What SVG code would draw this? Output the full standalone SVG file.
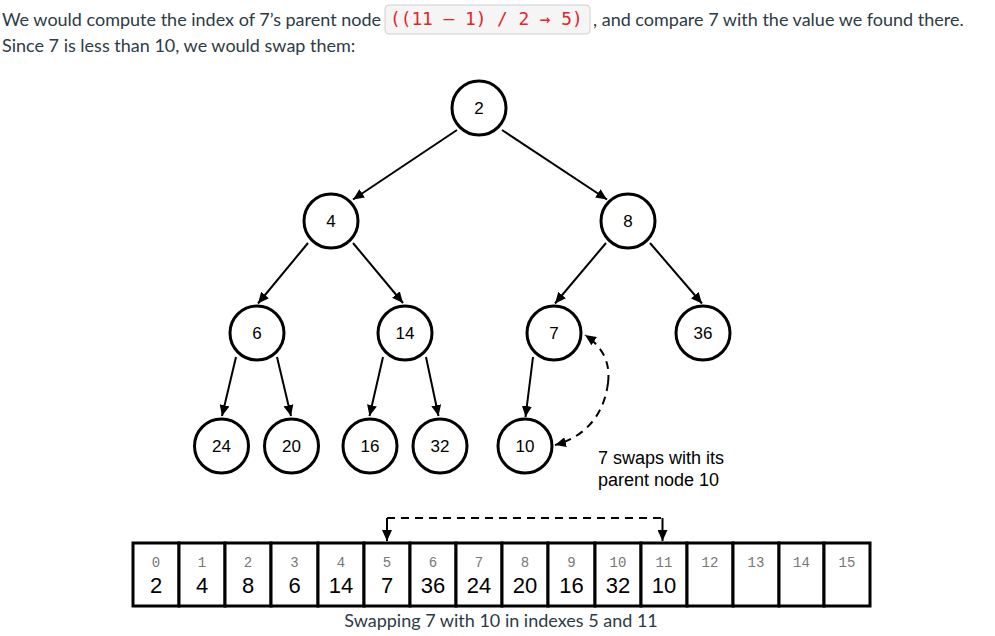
<svg xmlns="http://www.w3.org/2000/svg" width="995" height="636" viewBox="0 0 995 636">
<style>
.body{font-family:Lato,"Liberation Sans",sans-serif;font-size:18px;fill:#2d3b45}
.code{font-family:"DejaVu Sans Mono","Liberation Mono",monospace;font-size:17.8px;fill:#e3242b}
.node circle{fill:#fff;stroke:#000;stroke-width:3}
.node text{font-family:"Liberation Sans",Arial,sans-serif;font-size:17px;fill:#000;text-anchor:middle}
.edge{stroke:#000;stroke-width:2;fill:none}
.dash{stroke:#000;stroke-width:2;fill:none;stroke-dasharray:8,6}
.cell rect{fill:#fff;stroke:#000;stroke-width:3}
.idx{font-family:"Liberation Mono","Courier New",monospace;font-size:14px;fill:#777;text-anchor:middle}
.val{font-family:"Liberation Sans",Arial,sans-serif;font-size:22px;fill:#000;text-anchor:middle}
.note{font-family:"Liberation Sans",Arial,sans-serif;font-size:18px;fill:#000}
</style>
<defs>
<marker id="arr" markerUnits="userSpaceOnUse" markerWidth="12" markerHeight="10" refX="11" refY="5" orient="auto">
<path d="M0,0 L11,5 L0,10 z" fill="#000"/>
</marker>
</defs>
<rect width="995" height="636" fill="#fff"/>

<g id="intro">
<text class="body" x="2" y="26">We would compute the index of 7’s parent node</text>
<rect x="385" y="5" width="205" height="29" rx="4" fill="#f5f5f5" stroke="#d0d0d0" stroke-width="1"/>
<text class="code" x="390" y="25">((11 – 1) / 2 → 5)</text>
<text class="body" x="593" y="26">, and compare 7 with the value we found there.</text>
<text class="body" x="2" y="52">Since 7 is less than 10, we would swap them:</text>
</g>

<g id="connectors">
<line class="edge" x1="457" y1="130" x2="353" y2="199.5" marker-end="url(#arr)"/>
<line class="edge" x1="502" y1="130" x2="607" y2="199.5" marker-end="url(#arr)"/>
<line class="edge" x1="308" y1="243" x2="258" y2="303.5" marker-end="url(#arr)"/>
<line class="edge" x1="353" y1="243" x2="403" y2="303" marker-end="url(#arr)"/>
<line class="edge" x1="606" y1="243" x2="555" y2="303.5" marker-end="url(#arr)"/>
<line class="edge" x1="650" y1="243" x2="702" y2="303.5" marker-end="url(#arr)"/>
<line class="edge" x1="236" y1="357" x2="222" y2="416" marker-end="url(#arr)"/>
<line class="edge" x1="277" y1="357" x2="291" y2="416" marker-end="url(#arr)"/>
<line class="edge" x1="383" y1="357" x2="369.5" y2="416" marker-end="url(#arr)"/>
<line class="edge" x1="426" y1="357" x2="438.5" y2="416" marker-end="url(#arr)"/>
<line class="edge" x1="533" y1="357" x2="525.5" y2="417" marker-end="url(#arr)"/>
<path class="dash" d="M 608,383 C 611,360 600,345 585,335" stroke-dasharray="6,5" marker-end="url(#arr)"/>
<path class="dash" d="M 608,383 C 604,415 585,437 555,445" stroke-dasharray="6,5" marker-end="url(#arr)"/>
<path class="dash" d="M 387,518 L 662,518"/>
<line class="edge" x1="387" y1="518" x2="387" y2="541" marker-end="url(#arr)"/>
<line class="edge" x1="662.5" y1="518" x2="662.5" y2="541" marker-end="url(#arr)"/>
</g>

<g id="n2" class="node"><circle cx="479" cy="108" r="27"/><text x="479" y="114">2</text></g>
<g id="n4" class="node"><circle cx="331" cy="221" r="27"/><text x="331" y="227">4</text></g>
<g id="n8" class="node"><circle cx="628" cy="221" r="27"/><text x="628" y="227">8</text></g>
<g id="n6" class="node"><circle cx="257" cy="333" r="27"/><text x="257" y="339">6</text></g>
<g id="n14" class="node"><circle cx="405" cy="333" r="27"/><text x="405" y="339">14</text></g>
<g id="n7" class="node"><circle cx="554" cy="333" r="27"/><text x="554" y="339">7</text></g>
<g id="n36" class="node"><circle cx="703" cy="333" r="27"/><text x="703" y="339">36</text></g>
<g id="n24" class="node"><circle cx="221.5" cy="446" r="27"/><text x="221.5" y="452">24</text></g>
<g id="n20" class="node"><circle cx="291.5" cy="446" r="27"/><text x="291.5" y="452">20</text></g>
<g id="n16" class="node"><circle cx="370" cy="446" r="27"/><text x="370" y="452">16</text></g>
<g id="n32" class="node"><circle cx="440" cy="446" r="27"/><text x="440" y="452">32</text></g>
<g id="n10" class="node"><circle cx="525" cy="446" r="27"/><text x="525" y="452">10</text></g>

<g id="swap-note">
<text class="note" x="598" y="464">7 swaps with its</text>
<text class="note" x="598" y="486">parent node 10</text>
</g>

<g id="array" class="cell">
<rect x="133" y="543" width="46" height="63"/>
<rect x="179" y="543" width="46" height="63"/>
<rect x="225" y="543" width="46" height="63"/>
<rect x="271" y="543" width="47" height="63"/>
<rect x="318" y="543" width="46" height="63"/>
<rect x="364" y="543" width="46" height="63"/>
<rect x="410" y="543" width="46" height="63"/>
<rect x="456" y="543" width="46" height="63"/>
<rect x="502" y="543" width="46" height="63"/>
<rect x="548" y="543" width="47" height="63"/>
<rect x="595" y="543" width="46" height="63"/>
<rect x="641" y="543" width="46" height="63"/>
<rect x="687" y="543" width="46" height="63"/>
<rect x="733" y="543" width="46" height="63"/>
<rect x="779" y="543" width="45" height="63"/>
<rect x="824" y="543" width="46" height="63"/>
<text class="idx" x="156" y="567">0</text>
<text class="idx" x="202" y="567">1</text>
<text class="idx" x="248" y="567">2</text>
<text class="idx" x="294.5" y="567">3</text>
<text class="idx" x="341" y="567">4</text>
<text class="idx" x="387" y="567">5</text>
<text class="idx" x="433" y="567">6</text>
<text class="idx" x="479" y="567">7</text>
<text class="idx" x="525" y="567">8</text>
<text class="idx" x="571.5" y="567">9</text>
<text class="idx" x="618" y="567">10</text>
<text class="idx" x="664" y="567">11</text>
<text class="idx" x="710" y="567">12</text>
<text class="idx" x="756" y="567">13</text>
<text class="idx" x="801.5" y="567">14</text>
<text class="idx" x="847" y="567">15</text>
<text class="val" x="156" y="593">2</text>
<text class="val" x="202" y="593">4</text>
<text class="val" x="248" y="593">8</text>
<text class="val" x="294.5" y="593">6</text>
<text class="val" x="341" y="593">14</text>
<text class="val" x="387" y="593">7</text>
<text class="val" x="433" y="593">36</text>
<text class="val" x="479" y="593">24</text>
<text class="val" x="525" y="593">20</text>
<text class="val" x="571.5" y="593">16</text>
<text class="val" x="618" y="593">32</text>
<text class="val" x="664" y="593">10</text>
</g>

<g id="caption">
<text class="body" x="501" y="627" text-anchor="middle">Swapping 7 with 10 in indexes 5 and 11</text>
</g>
</svg>
